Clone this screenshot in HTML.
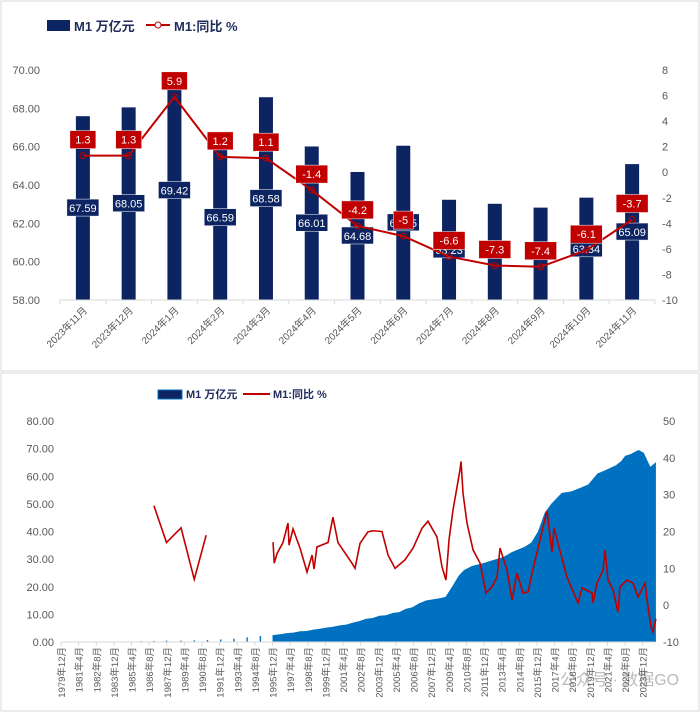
<!DOCTYPE html>
<html><head><meta charset="utf-8"><style>
html,body{margin:0;padding:0;background:#fff;}
svg{display:block;font-family:"Liberation Sans","Noto Sans CJK SC",sans-serif;}
</style></head><body>
<svg id="c" width="700" height="712" viewBox="0 0 700 712">
<rect x="1" y="1" width="698" height="370" fill="#fff" stroke="#d9d9d9"/>
<rect x="1" y="373" width="698" height="338" fill="#fff" stroke="#d9d9d9"/>
<g>
<rect x="47" y="20" width="23" height="11" fill="#0c2461"/>
<text x="74" y="31" font-size="13" font-weight="bold" fill="#1f2d5c">M1 万亿元</text>
<line x1="146" y1="25" x2="170" y2="25" stroke="#c00000" stroke-width="2"/>
<circle cx="158" cy="25" r="3" fill="#fff" stroke="#c00000"/>
<text x="174" y="31" font-size="13" font-weight="bold" fill="#1f2d5c">M1:同比 %</text>
</g>
<g>
<rect x="158" y="390" width="24" height="9" fill="#0c2461" stroke="#0070c0"/>
<text x="186" y="398" font-size="11" font-weight="bold" fill="#1f2d5c">M1 万亿元</text>
<line x1="243" y1="394" x2="270" y2="394" stroke="#c00000" stroke-width="2"/>
<text x="273" y="398" font-size="11" font-weight="bold" fill="#1f2d5c">M1:同比 %</text>
</g>
<text x="560" y="685" font-size="16" fill="#aaa" opacity="0.8">公众号 · 数据GO</text>
</svg>
<script>
// ---- top chart data ----
const topCategories=["2023年11月","2023年12月","2024年1月","2024年2月","2024年3月","2024年4月","2024年5月","2024年6月","2024年7月","2024年8月","2024年9月","2024年10月","2024年11月"];
const topM1=[67.59,68.05,69.42,66.59,68.58,66.01,64.68,66.05,63.23,63.02,62.82,63.34,65.09];
const topYoY=[1.3,1.3,5.9,1.2,1.1,-1.4,-4.2,-5,-6.6,-7.3,-7.4,-6.1,-3.7];
const topLeftTicks=["58.00","60.00","62.00","64.00","66.00","68.00","70.00"];
const topRightTicks=["-10","-8","-6","-4","-2","0","2","4","6","8"];
const showBarLabel=[1,1,1,1,1,1,1,1,1,0,0,1,1];
// ---- bottom chart data ----
const botEarlyYears=[1986.0,1986.95,1987.9,1989.0,1990.0,1991.0,1992.0,1993.0,1994.0,1995.0];
const botEarlyM1=[0.3,0.4,0.5,0.5,0.6,0.7,0.9,1.2,1.7,2.2];
const botAreaYears=[1995.92,1996.5,1997.0,1997.5,1998.0,1998.5,1999.0,1999.5,2000.0,2000.5,2001.0,2001.5,2002.0,2002.5,2003.0,2003.5,2004.0,2004.5,2005.0,2005.5,2006.0,2006.5,2007.0,2007.5,2007.75,2008.5,2009.0,2009.5,2010.0,2010.4,2011.0,2011.9,2012.5,2013.4,2014.0,2014.5,2015.0,2015.5,2016.0,2016.5,2017.0,2017.8,2018.5,2019.2,2019.8,2020.5,2021.0,2021.9,2022.3,2022.6,2023.0,2023.6,2024.0,2024.5,2024.92];
const botAreaM1=[2.5,2.8,3.2,3.4,3.9,4.0,4.5,4.8,5.2,5.5,6.0,6.3,7.0,7.6,8.4,8.7,9.5,9.7,10.5,10.8,12.0,12.6,14.0,15.0,15.2,15.8,16.3,20.0,24.0,26.0,27.5,28.6,29.5,30.8,32.5,33.5,34.5,36.0,40.0,46.7,50.0,54.0,54.5,55.8,57.0,61.0,62.0,64.0,65.5,67.4,68.0,69.5,68.5,63.4,65.1];
const botYoYEarlyYears=[1986.95,1987.9,1989.0,1990.0,1990.9];
const botYoYEarly=[27,17,21,7,19];
const botYoYYears=[1995.96,1996.05,1996.26,1996.71,1997.09,1997.17,1997.47,1998.0,1998.53,1998.91,1999.06,1999.28,2000.12,2000.49,2000.87,2001.93,2002.16,2002.54,2003.14,2003.52,2004.2,2004.66,2005.19,2005.94,2006.55,2007.23,2007.68,2008.36,2008.74,2009.04,2009.27,2009.57,2010.1,2010.18,2010.33,2010.63,2011.09,2011.62,2012.07,2012.52,2012.9,2013.13,2013.66,2014.04,2014.41,2014.87,2015.25,2015.55,2016.68,2017.06,2017.21,2018.19,2019.03,2019.33,2020.09,2020.16,2020.46,2020.92,2021.07,2021.3,2021.68,2022.05,2022.2,2022.73,2023.19,2023.57,2024.1,2024.25,2024.55,2024.7,2024.92];
const botYoY=[17.1,11.4,14,17,22.3,16.3,20.7,15.5,9,13.6,9.8,15.8,17,23.9,17,11.4,10,16.8,19.9,20.2,20,13.6,10,12.3,15.5,20.9,22.8,18.5,10.4,6.8,17.7,25.8,36.7,39,30.4,22.3,15,11.4,3.3,5,7.6,15.5,9.5,1.4,8.7,3.3,3.6,8.7,25.6,14.4,21,7.6,0.6,4.7,3.3,0.6,6,9.5,15,6.8,4.1,-1.9,5,6.8,6,2.2,6,1.4,-5.9,-7.3,-3.7];
const botLeftTicks=["0.00","10.00","20.00","30.00","40.00","50.00","60.00","70.00","80.00"];
const botRightTicks=["-10","0","10","20","30","40","50"];

const NS="http://www.w3.org/2000/svg";
const svg=document.getElementById('c');
function mk(tag,attrs,parent,txt){const e=document.createElementNS(NS,tag);for(const k in attrs)e.setAttribute(k,attrs[k]);if(txt!==undefined)e.textContent=txt;(parent||svg).appendChild(e);return e;}

// ===== TOP =====
const tX0=60,tX1=655,tY0=70,tY1=300;
const tStep=(tX1-tX0)/topCategories.length;
const txc=i=>tX0+tStep*(i+0.5);
const tyL=v=>tY1-(v-58)/(70-58)*(tY1-tY0);
const tyR=v=>tY1-(v+10)/18*(tY1-tY0);
const gt=mk('g',{});


topLeftTicks.forEach(t=>{const e=mk('text',{x:40,y:tyL(+t)+4,'font-size':11,fill:'#595959','text-anchor':'end'},gt,t);

});
topRightTicks.forEach(t=>{const e=mk('text',{x:662,y:tyR(+t)+4,'font-size':11,fill:'#595959'},gt,t);

});
topM1.forEach((v,i)=>{const b=mk('rect',{x:txc(i)-7,y:tyL(v),width:14,height:tY1-tyL(v),fill:'#0c2461'},gt);

});
const ax=mk('line',{x1:tX0,y1:tY1,x2:tX1,y2:tY1,stroke:'#d9d9d9'},gt);


for(let i=0;i<=topCategories.length;i++){const t=mk('line',{x1:tX0+tStep*i,y1:tY1,x2:tX0+tStep*i,y2:tY1+4,stroke:'#d9d9d9'},gt);

}
topCategories.forEach((c,i)=>{const x=txc(i)+5,y=tY1+11;const e=mk('text',{x:x,y:y,'font-size':10,fill:'#595959','text-anchor':'end',transform:`rotate(-45 ${x} ${y})`},gt,c);

});
topM1.forEach((v,i)=>{if(!showBarLabel[i])return;const cy=(tyL(v)+tY1)/2;
const r=mk('rect',{x:txc(i)-16,y:cy-9,width:32,height:17,fill:'#0c2461',stroke:'#fff','stroke-width':0.5},gt);


const t=mk('text',{x:txc(i),y:cy+4,'font-size':11,fill:'#fff','text-anchor':'middle'},gt,v.toFixed(2));

});
const lp=mk('polyline',{points:topYoY.map((v,i)=>txc(i)+','+tyR(v)).join(' '),fill:'none',stroke:'#c00000','stroke-width':2},gt);


topYoY.forEach((v,i)=>{const c=mk('circle',{cx:txc(i),cy:tyR(v),r:3,fill:'none',stroke:'#c00000','stroke-width':1},gt);


const cy=tyR(v)-16;const w=String(v).length*6+8;
const r=mk('rect',{x:txc(i)-w/2,y:cy-9,width:w,height:18,fill:'#c00000',stroke:'#fff','stroke-width':0.5},gt);


const t=mk('text',{x:txc(i),y:cy+4,'font-size':11,fill:'#fff','text-anchor':'middle'},gt,String(v));

});

// ===== BOTTOM =====
const bX0=61,bY0=421,bY1=642;
const T0=1979.92,PXY=13.22;
const bx=yr=>bX0+(yr-T0)*PXY;
const byL=v=>bY1-v/80*(bY1-bY0);
const byR=v=>bY1-(v+10)/60*(bY1-bY0);
const gb=mk('g',{});


botLeftTicks.forEach(t=>{const e=mk('text',{x:54,y:byL(+t)+4,'font-size':11,fill:'#595959','text-anchor':'end'},gb,t);

});
botRightTicks.forEach(t=>{const e=mk('text',{x:663,y:byR(+t)+4,'font-size':11,fill:'#595959'},gb,t);

});
botEarlyYears.forEach((y,i)=>{const b=mk('rect',{x:bx(y)-0.7,y:byL(botEarlyM1[i]),width:1.4,height:bY1-byL(botEarlyM1[i]),fill:'#0070c0'},gb);

});
let d=`M${bx(botAreaYears[0])},${bY1}`;
botAreaYears.forEach((y,i)=>{d+=` L${bx(y)},${byL(botAreaM1[i])}`;});
d+=` L${bx(botAreaYears[botAreaYears.length-1])},${bY1} Z`;
const ar=mk('path',{d:d,fill:'#0070c0'},gb);


const bax=mk('line',{x1:bX0,y1:bY1,x2:655,y2:bY1,stroke:'#d9d9d9'},gb);


for(let k=0;k<=33;k++){const yr=T0+k*16/12;const x=bx(yr);
const t=mk('line',{x1:x,y1:bY1,x2:x,y2:bY1+4,stroke:'#d9d9d9'},gb);


const mIdx=11+k*16;const Y=1979+Math.floor(mIdx/12);const M=mIdx%12+1;
const lx=x+4,ly=bY1+5;
const e=mk('text',{x:lx,y:ly,'font-size':9.5,fill:'#595959','text-anchor':'end',transform:`rotate(-90 ${lx} ${ly})`},gb,`${Y}年${M}月`);

}
const l1=mk('polyline',{points:botYoYEarlyYears.map((y,i)=>bx(y)+','+byR(botYoYEarly[i])).join(' '),fill:'none',stroke:'#c00000','stroke-width':1.6},gb);


const l2=mk('polyline',{points:botYoYYears.map((y,i)=>bx(y)+','+byR(botYoY[i])).join(' '),fill:'none',stroke:'#c00000','stroke-width':1.6},gb);


</script>
</body></html>
